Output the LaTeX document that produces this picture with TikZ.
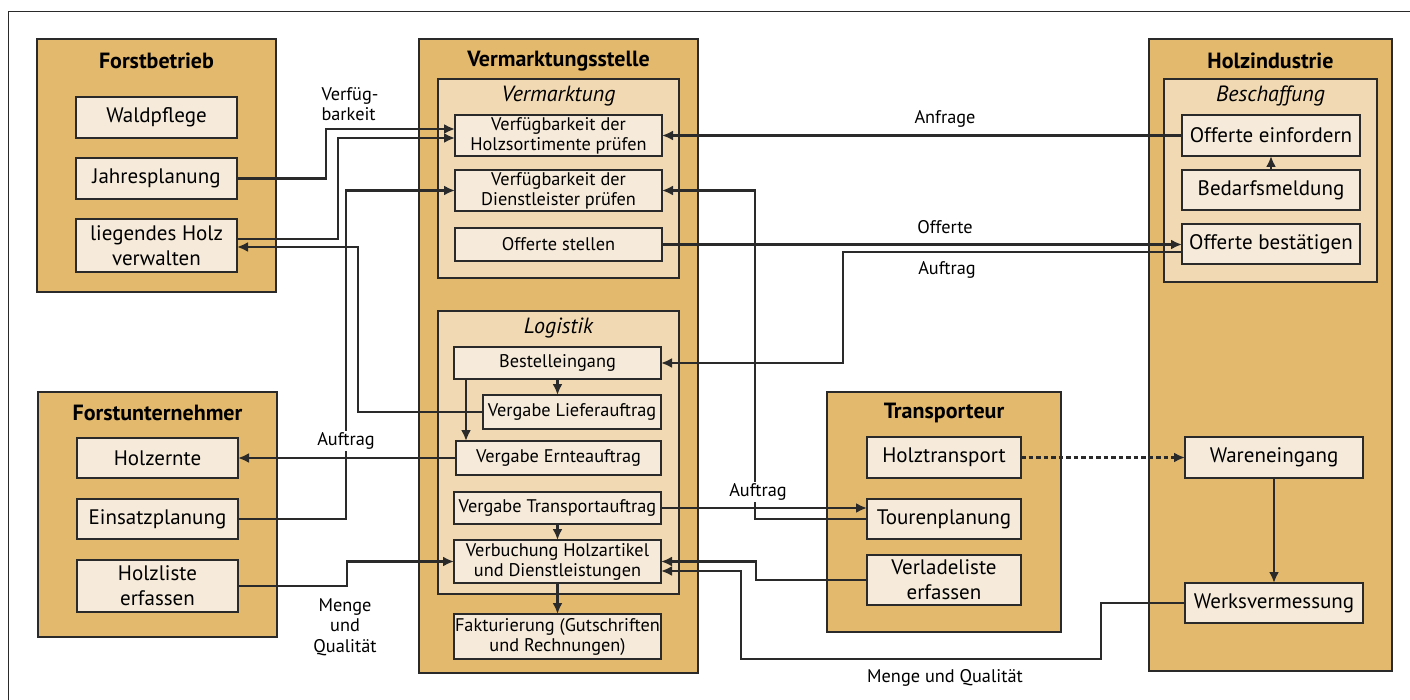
\documentclass[tikz,border=0pt]{standalone}
\usepackage{fontspec}
\setmainfont{PT Sans}
\usetikzlibrary{arrows.meta}

\definecolor{holzgelb}{HTML}{E3B96E}
\definecolor{abschnitt}{HTML}{F1DAB3}
\definecolor{kasten}{HTML}{F6EBDA}
\definecolor{rahmen}{HTML}{2A2A2A}

\begin{document}
\begin{tikzpicture}[
    x=1pt, y=-1pt,
    groupbox/.style={rectangle,draw=rahmen,line width=1.6pt,fill=holzgelb,anchor=north west,outer sep=0pt,inner sep=0pt},
    sectionbox/.style={groupbox,fill=abschnitt},
    process/.style={rectangle,draw=rahmen,line width=1.6pt,fill=kasten,anchor=north west,outer sep=0pt,inner sep=0pt,align=center,font=\fontsize{21}{25}\selectfont},
    klein/.style={font=\fontsize{18.3}{20}\selectfont},
    gtitle/.style={font=\fontsize{22}{26}\selectfont\bfseries},
    stitle/.style={font=\fontsize{22}{26}\selectfont\itshape},
    lbl/.style={font=\fontsize{18.3}{20.5}\selectfont,fill=white,inner sep=2pt,align=center},
    arrow/.style={-{Latex[length=11pt,width=10pt]},line width=2.6pt,draw=rahmen},
    dotarrow/.style={arrow,dash pattern=on 4.5pt off 3pt}
]
\useasboundingbox (0,0) rectangle (1410,700);
\draw[line width=1pt,draw=rahmen] (8,700) |- (1410,12);

% Gruppen
\node[groupbox,minimum width=239pt,minimum height=253pt] (forstbetrieb) at (37,39) {};
\node[groupbox,minimum width=279pt,minimum height=634pt] (vermarktungsstelle) at (419,39) {};
\node[groupbox,minimum width=243pt,minimum height=632pt] (holzindustrie) at (1149,39) {};
\node[groupbox,minimum width=239pt,minimum height=245pt] (forstunternehmer) at (38,392) {};
\node[groupbox,minimum width=234pt,minimum height=240pt] (transporteur) at (827,392) {};

\node[sectionbox,minimum width=241pt,minimum height=199pt] (vermarktung) at (438,79) {};
\node[sectionbox,minimum width=241pt,minimum height=283pt] (logistik) at (438,311) {};
\node[sectionbox,minimum width=213pt,minimum height=203pt] (beschaffung) at (1164,79) {};

% Titel
\node[gtitle] (tforstbetrieb) at (156.5,61) {Forstbetrieb};
\node[gtitle] (tvermarktungsstelle) at (558.5,61) {Vermarktungsstelle};
\node[gtitle] (tholzindustrie) at (1270.5,61) {Holzindustrie};
\node[gtitle] (tforstunternehmer) at (157.5,413) {Forstunternehmer};
\node[gtitle] (ttransporteur) at (944,413) {Transporteur};
\node[stitle] (tvermarktung) at (558.5,96) {Vermarktung};
\node[stitle] (tlogistik) at (558.5,328) {Logistik};
\node[stitle] (tbeschaffung) at (1270.5,96) {Beschaffung};

% Forstbetrieb
\node[process,minimum width=161pt,minimum height=41pt] (waldpflege) at (76,97) {Waldpflege};
\node[process,minimum width=161pt,minimum height=41pt] (jahresplanung) at (76,158) {Jahresplanung};
\node[process,minimum width=161pt,minimum height=53pt] (liegholz) at (76,219) {liegendes Holz\\verwalten};

% Forstunternehmer
\node[process,minimum width=161pt,minimum height=40pt] (holzernte) at (77,438) {Holzernte};
\node[process,minimum width=161pt,minimum height=40pt] (einsatzplanung) at (77,499) {Einsatzplanung};
\node[process,minimum width=161pt,minimum height=52pt] (holzliste) at (77,560) {Holzliste\\erfassen};

% Vermarktung
\node[process,klein,minimum width=207pt,minimum height=41pt] (pruefholz) at (455,115) {Verfügbarkeit der\\Holzsortimente prüfen};
\node[process,klein,minimum width=207pt,minimum height=41pt] (pruefdienst) at (455,170) {Verfügbarkeit der\\Dienstleister prüfen};
\node[process,klein,minimum width=207pt,minimum height=33pt] (offertestellen) at (455,228) {Offerte stellen};

% Logistik
\node[process,klein,minimum width=207pt,minimum height=32pt] (bestelleingang) at (454,347) {Bestelleingang};
\node[process,klein,minimum width=178pt,minimum height=34pt] (lieferauftrag) at (483,395) {Vergabe Lieferauftrag};
\node[process,klein,minimum width=205pt,minimum height=34pt] (ernteauftrag) at (456,441) {Vergabe Ernteauftrag};
\node[process,klein,minimum width=207pt,minimum height=32pt] (transportauftrag) at (454,492) {Vergabe Transportauftrag};
\node[process,klein,minimum width=207pt,minimum height=43pt] (verbuchung) at (454,540) {Verbuchung Holzartikel\\und Dienstleistungen};
\node[process,klein,minimum width=207pt,minimum height=45pt] (fakturierung) at (454,614) {Fakturierung (Gutschriften\\und Rechnungen)};

% Holzindustrie
\node[process,minimum width=178pt,minimum height=41pt] (einfordern) at (1182,115) {Offerte einfordern};
\node[process,minimum width=178pt,minimum height=40pt] (bedarf) at (1182,170) {Bedarfsmeldung};
\node[process,minimum width=178pt,minimum height=40pt] (bestaetigen) at (1182,224) {Offerte bestätigen};
\node[process,minimum width=178pt,minimum height=41pt] (wareneingang) at (1185,437) {Wareneingang};
\node[process,minimum width=178pt,minimum height=40pt] (werksvermessung) at (1185,583) {Werksvermessung};

% Transporteur
\node[process,minimum width=154pt,minimum height=41pt] (holztransport) at (867,437) {Holztransport};
\node[process,minimum width=154pt,minimum height=40pt] (tourenplanung) at (867,499) {Tourenplanung};
\node[process,minimum width=154pt,minimum height=50pt] (verladeliste) at (867,555) {Verladeliste\\erfassen};

% Verbindungen
\draw[arrow] (jahresplanung.east) -- ++(89,0) |- ([yshift=6.5pt]pruefholz.west);
\draw[arrow] ([yshift=6.5pt]liegholz.east) -- ++(101,0) |- ([yshift=-2.5pt]pruefholz.west);
\draw[arrow] (lieferauftrag.west) -- ++(-125,0) |- ([yshift=-1.5pt]liegholz.east);
\draw[arrow] (einsatzplanung.east) -- ++(108,0) |- (pruefdienst.west);
\draw[arrow] (ernteauftrag.west) -- (ernteauftrag.west -| holzernte.east);
\draw[arrow] (holzliste.east) -- ++(109,0) |- (verbuchung.west);

\draw[arrow] (bestelleingang.south) -- (bestelleingang.south |- lieferauftrag.north);
\draw[arrow] ([xshift=12pt]bestelleingang.south west) -- ([xshift=12pt]bestelleingang.south west |- ernteauftrag.north);
\draw[arrow] (transportauftrag.south) -- (verbuchung.north);
\draw[arrow] (verbuchung.south) -- (fakturierung.north);

\draw[arrow] (einfordern.west) -- (einfordern.west -| pruefholz.east);
\draw[arrow] (bedarf.north) -- (einfordern.south);
\draw[arrow] (offertestellen.east) -- (offertestellen.east -| bestaetigen.west);
\draw[arrow] ([yshift=-8pt]bestaetigen.west) -- ++(-339,0) |- (bestelleingang.east);

\draw[arrow] (tourenplanung.west) -- ++(-112,0) |- (pruefdienst.east);
\draw[arrow] (transportauftrag.east) -- (transportauftrag.east -| tourenplanung.west);
\draw[arrow] (verladeliste.west) -- ++(-111,0) |- (verbuchung.east);
\draw[arrow] (werksvermessung.west) -- ++(-84,0) -- ++(0,56) -- ++(-360,0) |- ([yshift=-9.5pt]verbuchung.east);
\draw[dotarrow] (holztransport.east) -- (wareneingang.west);
\draw[arrow] (wareneingang.south) -- (werksvermessung.north);

% Beschriftungen
\node[lbl,align=left,inner sep=1pt] (lverfueg) at (350,104) {Verfüg-\\barkeit};
\node[lbl] (lauftragfu) at (346,441) {Auftrag};
\node[lbl] (lmenge) at (345,627) {Menge\\und\\Qualität};
\node[lbl] (lanfrage) at (945,119) {Anfrage};
\node[lbl] (lofferte) at (945,227) {Offerte};
\node[lbl] (lauftraghi) at (947,270) {Auftrag};
\node[lbl] (lauftragtr) at (758,492) {Auftrag};
\node[lbl] (lmengehi) at (945,678) {Menge und Qualität};

\end{tikzpicture}
\end{document}
